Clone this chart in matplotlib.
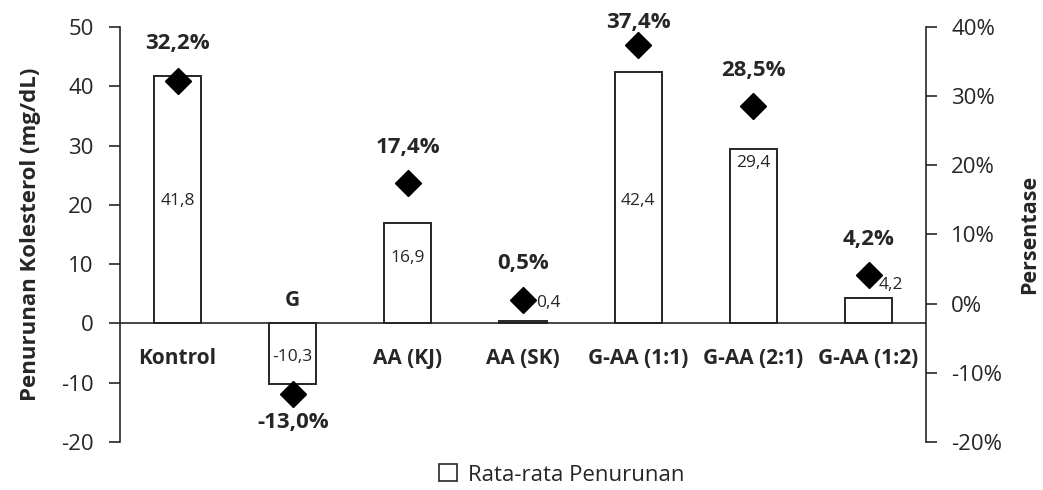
import matplotlib
matplotlib.use("Agg")
import matplotlib.pyplot as plt
from matplotlib.patches import Patch

plt.rcParams['font.family'] = ['Open Sans', 'DejaVu Sans']
plt.rcParams['axes.unicode_minus'] = False

categories = ["Kontrol", "G", "AA (KJ)", "AA (SK)", "G-AA (1:1)", "G-AA (2:1)", "G-AA (1:2)"]
penurunan = [41.8, -10.3, 16.9, 0.4, 42.4, 29.4, 4.2]          # mg/dL
persentase = [32.2, -13.0, 17.4, 0.5, 37.4, 28.5, 4.2]         # %

def fmt(v, pct=False):
    s = f"{v:.1f}".replace(".", ",")
    return s + "%" if pct else s

# placement of value labels (x offset in category units, y in mg/dL)
bar_label_dx = [0, 0, 0, 0.22, 0, 0, 0.19]
bar_label_y = [20.6, -5.7, 11.0, 3.5, 20.7, 27.0, 6.4]
pct_label_off = [37, -29, 36, 37, 22, 36, 35]   # pixels above/below marker
cat_label_off = [-35, 23, -35, -35, -35, -35, -35]

txt = '#262626'
fig = plt.figure(figsize=(10.43, 4.9), dpi=100)
ax = fig.add_axes([0.115, 0.098, 0.773, 0.847])
ax2 = ax.twinx()

x = list(range(len(categories)))
ax.bar(x, penurunan, width=0.41, color='white', edgecolor='#262626', linewidth=1.4, zorder=2)
ax.set_xlim(-0.5, len(categories) - 0.5)
ax.set_ylim(-20, 50)
ax.set_yticks(range(-20, 51, 10))
ax.axhline(0, color='#262626', lw=1.2, zorder=3)

ax2.set_ylim(-20, 40)
ax2.set_yticks(range(-20, 41, 10))
ax2.set_yticklabels([f"{t}%" for t in range(-20, 41, 10)])
ax2.plot(x, persentase, linestyle='none', marker='D', markersize=13,
         color='black', zorder=5)

for a in (ax, ax2):
    for s in ('top', 'bottom'):
        a.spines[s].set_visible(False)
    a.tick_params(axis='y', direction='out', length=8, width=1.2, colors='#262626',
                  labelsize=16, labelcolor=txt)
    a.tick_params(axis='x', bottom=False, labelbottom=False)
ax.spines['left'].set_color('#262626')
ax.spines['left'].set_linewidth(1.2)
ax.spines['right'].set_visible(False)
ax2.spines['left'].set_visible(False)
ax2.spines['right'].set_color('#262626')
ax2.spines['right'].set_linewidth(1.2)
ax.tick_params(axis='y', pad=11)
ax2.tick_params(axis='y', pad=10)

for i, v in enumerate(penurunan):
    ax.text(i + bar_label_dx[i], bar_label_y[i], fmt(v), ha='center', va='center',
            fontsize=12.5, color=txt, zorder=6)

for i, p in enumerate(persentase):
    ax2.annotate(fmt(p, True), xy=(i, p), xytext=(0, pct_label_off[i] * 0.72),
                 textcoords='offset points', ha='center', va='center',
                 fontsize=16, fontweight='bold', color=txt)

for i, c in enumerate(categories):
    ax.annotate(c, xy=(i, 0), xytext=(0, cat_label_off[i] * 0.72),
                textcoords='offset points', ha='center', va='center',
                fontsize=15, fontweight='bold', color=txt)

ax.set_ylabel("Penurunan Kolesterol (mg/dL)", fontsize=16, fontweight='bold', color=txt, labelpad=14)
ax2.set_ylabel("Persentase", fontsize=15.5, fontweight='bold', color=txt, labelpad=12)

fig.legend(handles=[Patch(facecolor='white', edgecolor='#262626', linewidth=1.2)],
           labels=["Rata-rata Penurunan"], loc='lower center',
           bbox_to_anchor=(0.539, -0.032), frameon=False, fontsize=16,
           handlelength=0.8, handleheight=0.8, handletextpad=0.5, labelcolor=txt)

fig.savefig("out.png", dpi=100)
